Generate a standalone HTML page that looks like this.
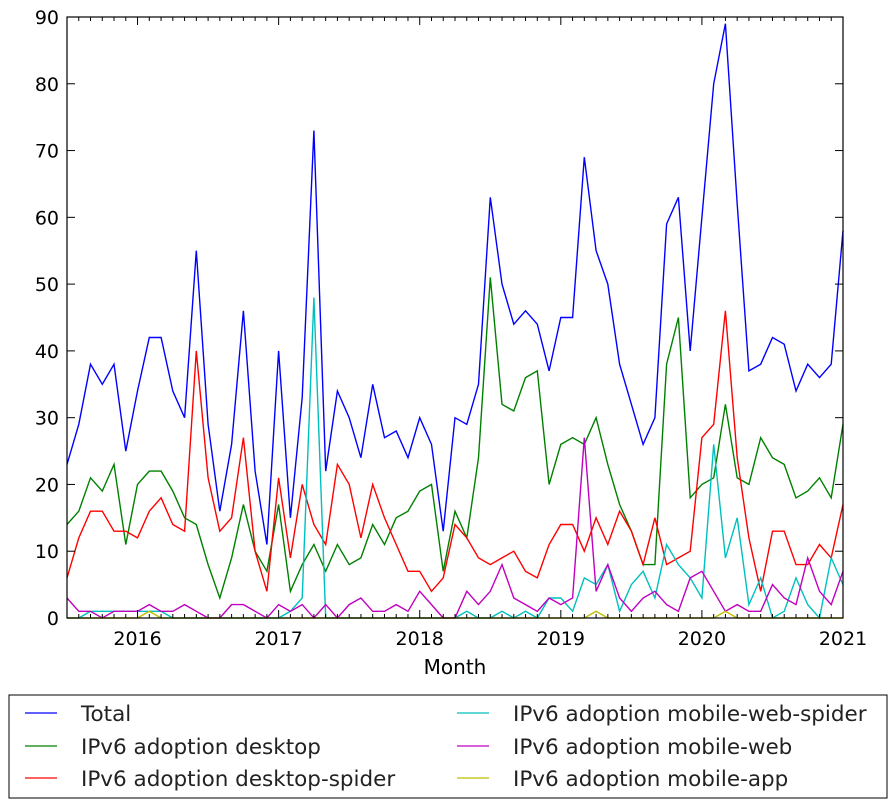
<!DOCTYPE html>
<html><head><meta charset="utf-8"><style>
html,body{margin:0;padding:0;background:#fff;}
svg{display:block;font-family:"DejaVu Sans","Liberation Sans",sans-serif;}
</style></head><body>
<svg id="s" width="895" height="807" xmlns="http://www.w3.org/2000/svg">
<rect width="895" height="807" fill="#fff"/>
<g id="plot"></g>
<rect x="67" y="17" width="776" height="601" fill="none" stroke="#000" stroke-width="1.2"/>
<g id="ticks" font-size="19" fill="#000"></g>
<text x="455" y="674" font-size="20" text-anchor="middle">Month</text>
<rect x="9" y="695" width="878" height="103" fill="#fff" stroke="#000" stroke-width="1"/>
<g font-size="21.5" fill="#222">
<line x1="25" y1="713" x2="57" y2="713" stroke="#0000ff" stroke-width="1.2"/>
<text x="81" y="721">Total</text>
<line x1="25" y1="746" x2="57" y2="746" stroke="#008000" stroke-width="1.2"/>
<text x="81" y="754">IPv6 adoption desktop</text>
<line x1="25" y1="778" x2="57" y2="778" stroke="#ff0000" stroke-width="1.2"/>
<text x="81" y="786">IPv6 adoption desktop-spider</text>
<line x1="457" y1="713" x2="489" y2="713" stroke="#00bfbf" stroke-width="1.2"/>
<text x="513" y="721">IPv6 adoption mobile-web-spider</text>
<line x1="457" y1="746" x2="489" y2="746" stroke="#bf00bf" stroke-width="1.2"/>
<text x="513" y="754">IPv6 adoption mobile-web</text>
<line x1="457" y1="778" x2="489" y2="778" stroke="#bfbf00" stroke-width="1.2"/>
<text x="513" y="786">IPv6 adoption mobile-app</text>
</g>
</svg>
<script>
var total=[23,29,38,35,38,25, 34,42,42,34,30,55,29,16,26,46,22,11, 40,15,33,73,22,34,30,24,35,27,28,24, 30,26,13,30,29,35,63,50,44,46,44,37, 45,45,69,55,50,38,32,26,30,59,63,40, 60,80,89,62,37,38,42,41,34,38,36,38, 58];
var desk=[14,16,21,19,23,11, 20,22,22,19,15,14,8,3,9,17,10,7, 17,4,8,11,7,11,8,9,14,11,15,16, 19,20,7,16,12,24,51,32,31,36,37,20, 26,27,26,30,23,17,13,8,8,38,45,18, 20,21,32,21,20,27,24,23,18,19,21,18, 29];
var dspider=[6,12,16,16,13,13, 12,16,18,14,13,40,21,13,15,27,10,4, 21,9,20,14,11,23,20,12,20,15,11,7, 7,4,6,14,12,9,8,9,10,7,6,11, 14,14,10,15,11,16,13,8,15,8,9,10, 27,29,46,24,12,4,13,13,8,8,11,9, 17];
var mwspider=[0,0,1,1,1,1, 1,1,1,0,0,0,0,0,0,0,0,0, 0,1,3,48,0,0,0,0,0,0,0,0, 0,0,0,0,1,0,0,1,0,1,0,3, 3,1,6,5,8,1,5,7,3,11,8,6, 3,26,9,15,2,6,0,1,6,2,0,9, 5];
var mweb=[3,1,1,0,1,1, 1,2,1,1,2,1,0,0,2,2,1,0, 2,1,2,0,2,0,2,3,1,1,2,1, 4,2,0,0,4,2,4,8,3,2,1,3, 2,3,27,4,8,3,1,3,4,2,1,6, 7,4,1,2,1,1,5,3,2,9,4,2, 7];
var mapp=[]; for(var i=0;i<67;i++)mapp.push(0); mapp[7]=1; mapp[45]=1; mapp[56]=1;
var NS="http://www.w3.org/2000/svg";
function X(i){return 67+i*776/66;}
function Y(v){return 618-v*601/90;}
var plot=document.getElementById("plot");
[[total,"#0000ff"],[desk,"#008000"],[dspider,"#ff0000"],[mwspider,"#00bfbf"],[mweb,"#bf00bf"],[mapp,"#bfbf00"]].forEach(function(s){
 var p=document.createElementNS(NS,"polyline");
 p.setAttribute("points",s[0].map(function(v,i){return X(i).toFixed(1)+","+Y(v).toFixed(1);}).join(" "));
 p.setAttribute("fill","none");p.setAttribute("stroke",s[1]);p.setAttribute("stroke-width","1.4");
 plot.appendChild(p);
});
var t=document.getElementById("ticks");
function add(tag,attrs,txt){var e=document.createElementNS(NS,tag);for(var k in attrs)e.setAttribute(k,attrs[k]);if(txt)e.textContent=txt;t.appendChild(e);}
for(var v=0;v<=90;v+=10){var y=Y(v);
 add("line",{x1:67,y1:y,x2:75,y2:y,stroke:"#000"});
 add("line",{x1:843,y1:y,x2:835,y2:y,stroke:"#000"});
 add("text",{x:59,y:y+7,"text-anchor":"end"},String(v));}
for(var i=0;i<67;i++){var x=X(i);var maj=((i-6)%12===0);
 var L=maj?8:4;
 add("line",{x1:x,y1:618,x2:x,y2:618-L,stroke:"#000"});
 add("line",{x1:x,y1:17,x2:x,y2:17+L,stroke:"#000"});
 if(maj)add("text",{x:x,y:645,"text-anchor":"middle"},String(2016+(i-6)/12));}
</script>
</body></html>
